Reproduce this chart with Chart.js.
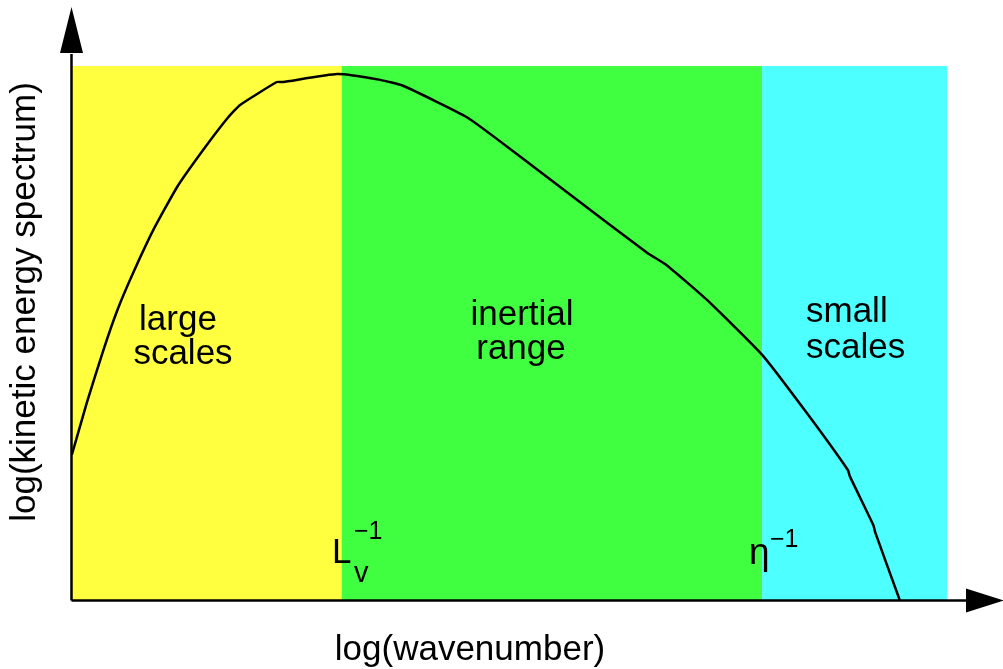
<!DOCTYPE html>
<html>
<head>
<meta charset="utf-8">
<script src="https://cdn.jsdelivr.net/npm/chart.js@4/dist/chart.umd.min.js"></script>
<style>
html,body{margin:0;padding:0;background:#fff;}
#wrap{width:1003px;height:669px;position:relative;}
</style>
</head>
<body>
<div id="wrap"><canvas id="c" width="1003" height="669"></canvas></div>
<script>
// log(wavenumber) values (arbitrary units 0..10)
const logK = [0.01,0.18,0.37,0.53,0.70,0.94,1.21,1.51,1.79,1.93,2.35,2.42,3.04,3.53,3.79,4.52,5.13,5.73,6.58,6.80,7.26,7.89,8.40,8.87,8.89,9.16,9.18,9.46];
// log(kinetic energy spectrum) values (arbitrary units 0..10)
const logE = [2.72,3.69,4.68,5.43,6.09,6.93,7.73,8.43,9.03,9.27,9.70,9.70,9.85,9.74,9.63,9.04,8.30,7.55,6.50,6.27,5.62,4.59,3.50,2.43,2.32,1.40,1.27,0.00];
// range boundaries along log(wavenumber)
const regionEdges = [0, 3.09, 7.89, 10];
const regionNames = [["large","scales"],["inertial","range"],["small","scales"]];
const regionColors = ["#ffff40","#40ff40","#4dffff"];
const axisTitles = {x:"log(wavenumber)", y:"log(kinetic energy spectrum)"};

const FONT = '"Liberation Sans", Arial, Helvetica, sans-serif';

const regionsPlugin = {
  id:'regions',
  beforeDatasetsDraw(chart){
    const {ctx, chartArea:a, scales:{x}} = chart;
    ctx.save();
    for(let i=0;i<regionColors.length;i++){
      const x0 = x.getPixelForValue(regionEdges[i]);
      const x1 = x.getPixelForValue(regionEdges[i+1]);
      ctx.fillStyle = regionColors[i];
      ctx.fillRect(x0, a.top, x1-x0, a.bottom-a.top);
    }
    // region labels
    ctx.fillStyle = '#000';
    ctx.font = '35px ' + FONT;
    ctx.textBaseline = 'alphabetic';
    ctx.textAlign = 'center';
    ctx.fillText(regionNames[0][0], 178, 330);
    ctx.fillText(regionNames[0][1], 183, 364);
    ctx.fillText(regionNames[1][0], 522, 325);
    ctx.fillText(regionNames[1][1], 521, 359);
    ctx.textAlign = 'left';
    ctx.fillText(regionNames[2][0], 806, 322);
    ctx.fillText(regionNames[2][1], 806, 358);
    // boundary labels
    ctx.textAlign = 'left';
    ctx.font = '35px ' + FONT;
    ctx.fillText('L', 332, 563);
    ctx.font = '29px ' + FONT;
    ctx.fillText('v', 354, 582);
    ctx.font = '25px ' + FONT;
    ctx.fillText('\u22121', 354, 539);
    ctx.font = '37px ' + FONT;
    ctx.fillText('\u03b7', 749, 564);
    ctx.font = '25px ' + FONT;
    ctx.fillText('\u22121', 770, 547);
    ctx.restore();
  },
  afterDatasetsDraw(chart){
    const {ctx, chartArea:a} = chart;
    ctx.save();
    ctx.strokeStyle = '#000';
    ctx.fillStyle = '#000';
    ctx.lineWidth = 2.5;
    const ax = a.left + 0.5;
    const ay = a.bottom + 0.5;
    // y axis
    ctx.beginPath();
    ctx.moveTo(ax, ay); ctx.lineTo(ax, 54);
    ctx.stroke();
    ctx.beginPath();
    ctx.moveTo(ax, 7); ctx.lineTo(ax-11.5, 53); ctx.lineTo(ax+11.5, 53); ctx.closePath();
    ctx.fill();
    // x axis
    ctx.beginPath();
    ctx.moveTo(ax, ay); ctx.lineTo(967, ay);
    ctx.stroke();
    ctx.beginPath();
    ctx.moveTo(1004, ay); ctx.lineTo(966, ay-12); ctx.lineTo(966, ay+12); ctx.closePath();
    ctx.fill();
    // titles
    ctx.font = '35px ' + FONT;
    ctx.textAlign = 'center';
    ctx.textBaseline = 'alphabetic';
    ctx.fillText(axisTitles.x, 470, 660);
    ctx.translate(35, 302);
    ctx.rotate(-Math.PI/2);
    ctx.fillText(axisTitles.y, 0, 0);
    ctx.restore();
  }
};

new Chart(document.getElementById('c'), {
  type:'line',
  data:{
    datasets:[{
      data: logK.map((k,i)=>({x:k, y:logE[i]})),
      borderColor:'#000',
      borderWidth:2.5,
      pointRadius:0,
      tension:0.15,
      fill:false
    }]
  },
  options:{
    responsive:false,
    animation:false,
    devicePixelRatio:1,
    layout:{padding:{left:71, right:56, top:66, bottom:69}},
    plugins:{legend:{display:false}, tooltip:{enabled:false}, title:{display:false}},
    scales:{
      x:{type:'linear', min:0, max:10, display:false},
      y:{type:'linear', min:0, max:10, display:false}
    }
  },
  plugins:[regionsPlugin]
});
</script>
</body>
</html>
